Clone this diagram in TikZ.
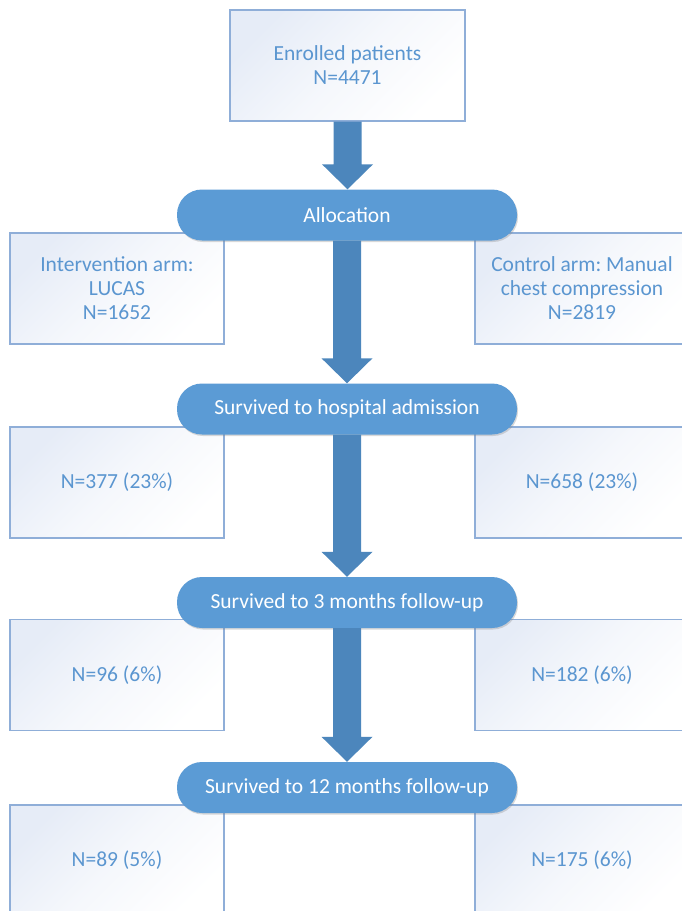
\documentclass[tikz,border=0pt]{standalone}
\usepackage{fontspec}
\setmainfont{Carlito}
\frenchspacing
\usetikzlibrary{calc,shadows}
\definecolor{boxline}{RGB}{143,174,216}
\definecolor{boxtop}{RGB}{230,236,247}
\definecolor{txtblue}{RGB}{91,150,208}
\definecolor{stadfill}{RGB}{91,155,213}
\definecolor{arrowc}{RGB}{76,134,188}
\tikzset{
  box/.style={draw=boxline, line width=1.2pt, top color=boxtop, bottom color=white, middle color=white!60!boxtop, shading angle=45,
    text=txtblue, align=center, inner sep=0pt, minimum width=214pt, minimum height=111pt,
    font=\fontsize{21.5}{24}\selectfont},
  stad/.style={fill=stadfill, rounded corners=25pt, text=white, inner sep=0pt,
    minimum width=340pt, minimum height=51pt, font=\fontsize{21.5}{24}\selectfont,
    drop shadow={shadow xshift=1pt, shadow yshift=-1.5pt, opacity=0.3}},
}
\newcommand\blockarrow[2]{%
  \fill[arrowc] let \p1=(#1.south), \p2=(#2.north) in
    (\x1-14pt,\y1) -- (\x1+14pt,\y1) -- (\x1+14pt,\y2+25pt) -- (\x1+25.5pt,\y2+25pt)
    -- (\x1,\y2) -- (\x1-25.5pt,\y2+25pt) -- (\x1-14pt,\y2+25pt) -- cycle;}
\begin{document}
\begin{tikzpicture}[x=1pt,y=1pt]
\useasboundingbox[fill=white] (0,0) rectangle (681,-911);
% boxes
\node[box, minimum width=235pt] (enr) at (347.5,-65.5) {Enrolled patients\\N=4471};
\node[box] (l1) at (117,-288.5) {Intervention arm:\\LUCAS\\N=1652};
\node[box] (r1) at (582,-288.5) {Control arm: Manual\\chest compression\\N=2819};
\node[box] (l2) at (117,-482.5) {N=377 (23\%)};
\node[box] (r2) at (582,-482.5) {N=658 (23\%)};
\node[box] (l3) at (117,-675) {N=96 (6\%)};
\node[box] (r3) at (582,-675) {N=182 (6\%)};
\node[box] (l4) at (117,-860.5) {N=89 (5\%)};
\node[box] (r4) at (582,-860.5) {N=175 (6\%)};
% stadiums
\node[stad] (s1) at (347,-215) {Allocation};
\node[stad] (s2) at (347,-409) {Survived to hospital admission};
\node[stad] (s3) at (347,-602.5) {Survived to 3 months follow-up};
\node[stad] (s4) at (347,-787.5) {Survived to 12 months follow-up};
% arrows
\blockarrow{enr}{s1}
\blockarrow{s1}{s2}
\blockarrow{s2}{s3}
\blockarrow{s3}{s4}
\end{tikzpicture}
\end{document}
